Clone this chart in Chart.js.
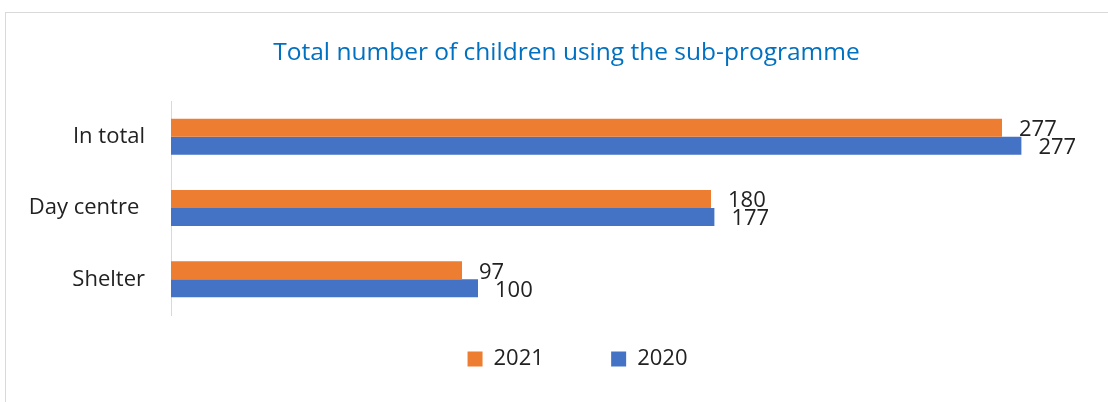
<!DOCTYPE html>
<html>
  <head>
    <meta charset="UTF-8" />
    <title>Total number of children using the sub-programme</title>
    <style>
      body {
        margin: 0;
        width: 1108px;
        height: 402px;
        overflow: hidden;
        background: #fff;
        font-family: "Open Sans", sans-serif;
      }

      .frame {
        position: absolute;
        left: 5px;
        top: 12px;
        width: 1200px;
        height: 500px;
        border: 1px solid #d9d9d9;
      }

      .wrap {
        position: absolute;
        left: 0;
        top: 0;
        width: 1108px;
        height: 402px;
      }
    </style>
  </head>

  <body>
    <div class="frame"></div>
    <div class="wrap"><canvas id="chart"></canvas></div>

    <script src="https://cdn.jsdelivr.net/npm/chart.js"></script>

    <script>
      const categories = ["In total", "Day centre ", "Shelter"];
      const values2021 = [277, 180, 97];
      const values2020 = [277, 177, 100];
      const seriesNames = ["2021", "2020"];

      const textColor = "#222222";
      const baseFont = { family: "'Open Sans', sans-serif", size: 22 };

      // value labels at the end of each bar
      const barLabels = {
        id: "barLabels",
        afterDatasetsDraw(chart) {
          const ctx = chart.ctx;
          ctx.save();
          ctx.font = "22px 'Open Sans', sans-serif";
          ctx.fillStyle = textColor;
          ctx.textAlign = "left";
          ctx.textBaseline = "middle";
          chart.data.datasets.forEach((ds, i) => {
            const meta = chart.getDatasetMeta(i);
            meta.data.forEach((bar, j) => {
              ctx.fillText(String(ds.data[j]), bar.x + 17, bar.y + 2);
            });
          });
          ctx.restore();
        },
      };

      // labels may use the space left of the axis box; legend sits a bit right of centre
      const layoutTweaks = {
        id: "layoutTweaks",
        afterLayout(chart) {
          chart.scales.y.left = 0;
          chart.legend.left += 11;
          chart.legend.right += 11;
        },
      };

      const ctx = document.getElementById("chart").getContext("2d");

      const chart = new Chart(ctx, {
        type: "bar",
        data: {
          labels: categories,
          datasets: [
            {
              label: seriesNames[0],
              data: values2021,
              backgroundColor: "#ED7D31",
              xAxisID: "x2",
              categoryPercentage: 0.505,
              barPercentage: 1,
            },
            {
              label: seriesNames[1],
              data: values2020,
              backgroundColor: "#4472C4",
              xAxisID: "x",
              categoryPercentage: 0.505,
              barPercentage: 1,
            },
          ],
        },
        options: {
          indexAxis: "y",
          responsive: true,
          maintainAspectRatio: false,
          animation: false,
          layout: {
            padding: { left: 41, right: 16, top: 0, bottom: 22 },
          },
          scales: {
            x: {
              type: "linear",
              display: false,
              min: 0,
              max: 300,
            },
            x2: {
              type: "linear",
              axis: "x",
              display: false,
              min: 0,
              max: 307,
            },
            y: {
              grid: { display: false, drawTicks: false },
              border: { display: true, color: "#d9d9d9", width: 1 },
              ticks: {
                color: textColor,
                font: baseFont,
                padding: 26,
              },
              afterFit(scale) {
                scale.width = 130;
              },
            },
          },
          plugins: {
            title: {
              display: true,
              text: "Total number of children using the sub-programme",
              color: "#0070C0",
              font: { family: "'Open Sans', sans-serif", size: 24.5, weight: "normal" },
              padding: { top: 38.3, bottom: 33.3 },
            },
            legend: {
              position: "bottom",
              labels: {
                color: textColor,
                font: baseFont,
                boxWidth: 15,
                boxHeight: 15,
                padding: 33,
                generateLabels(c) {
                  const items = Chart.defaults.plugins.legend.labels.generateLabels(c);
                  items[0].text = items[0].text + "      ";
                  return items;
                },
              },
            },
            tooltip: { enabled: false },
          },
        },
        plugins: [barLabels, layoutTweaks],
      });
    </script>
  </body>
</html>
